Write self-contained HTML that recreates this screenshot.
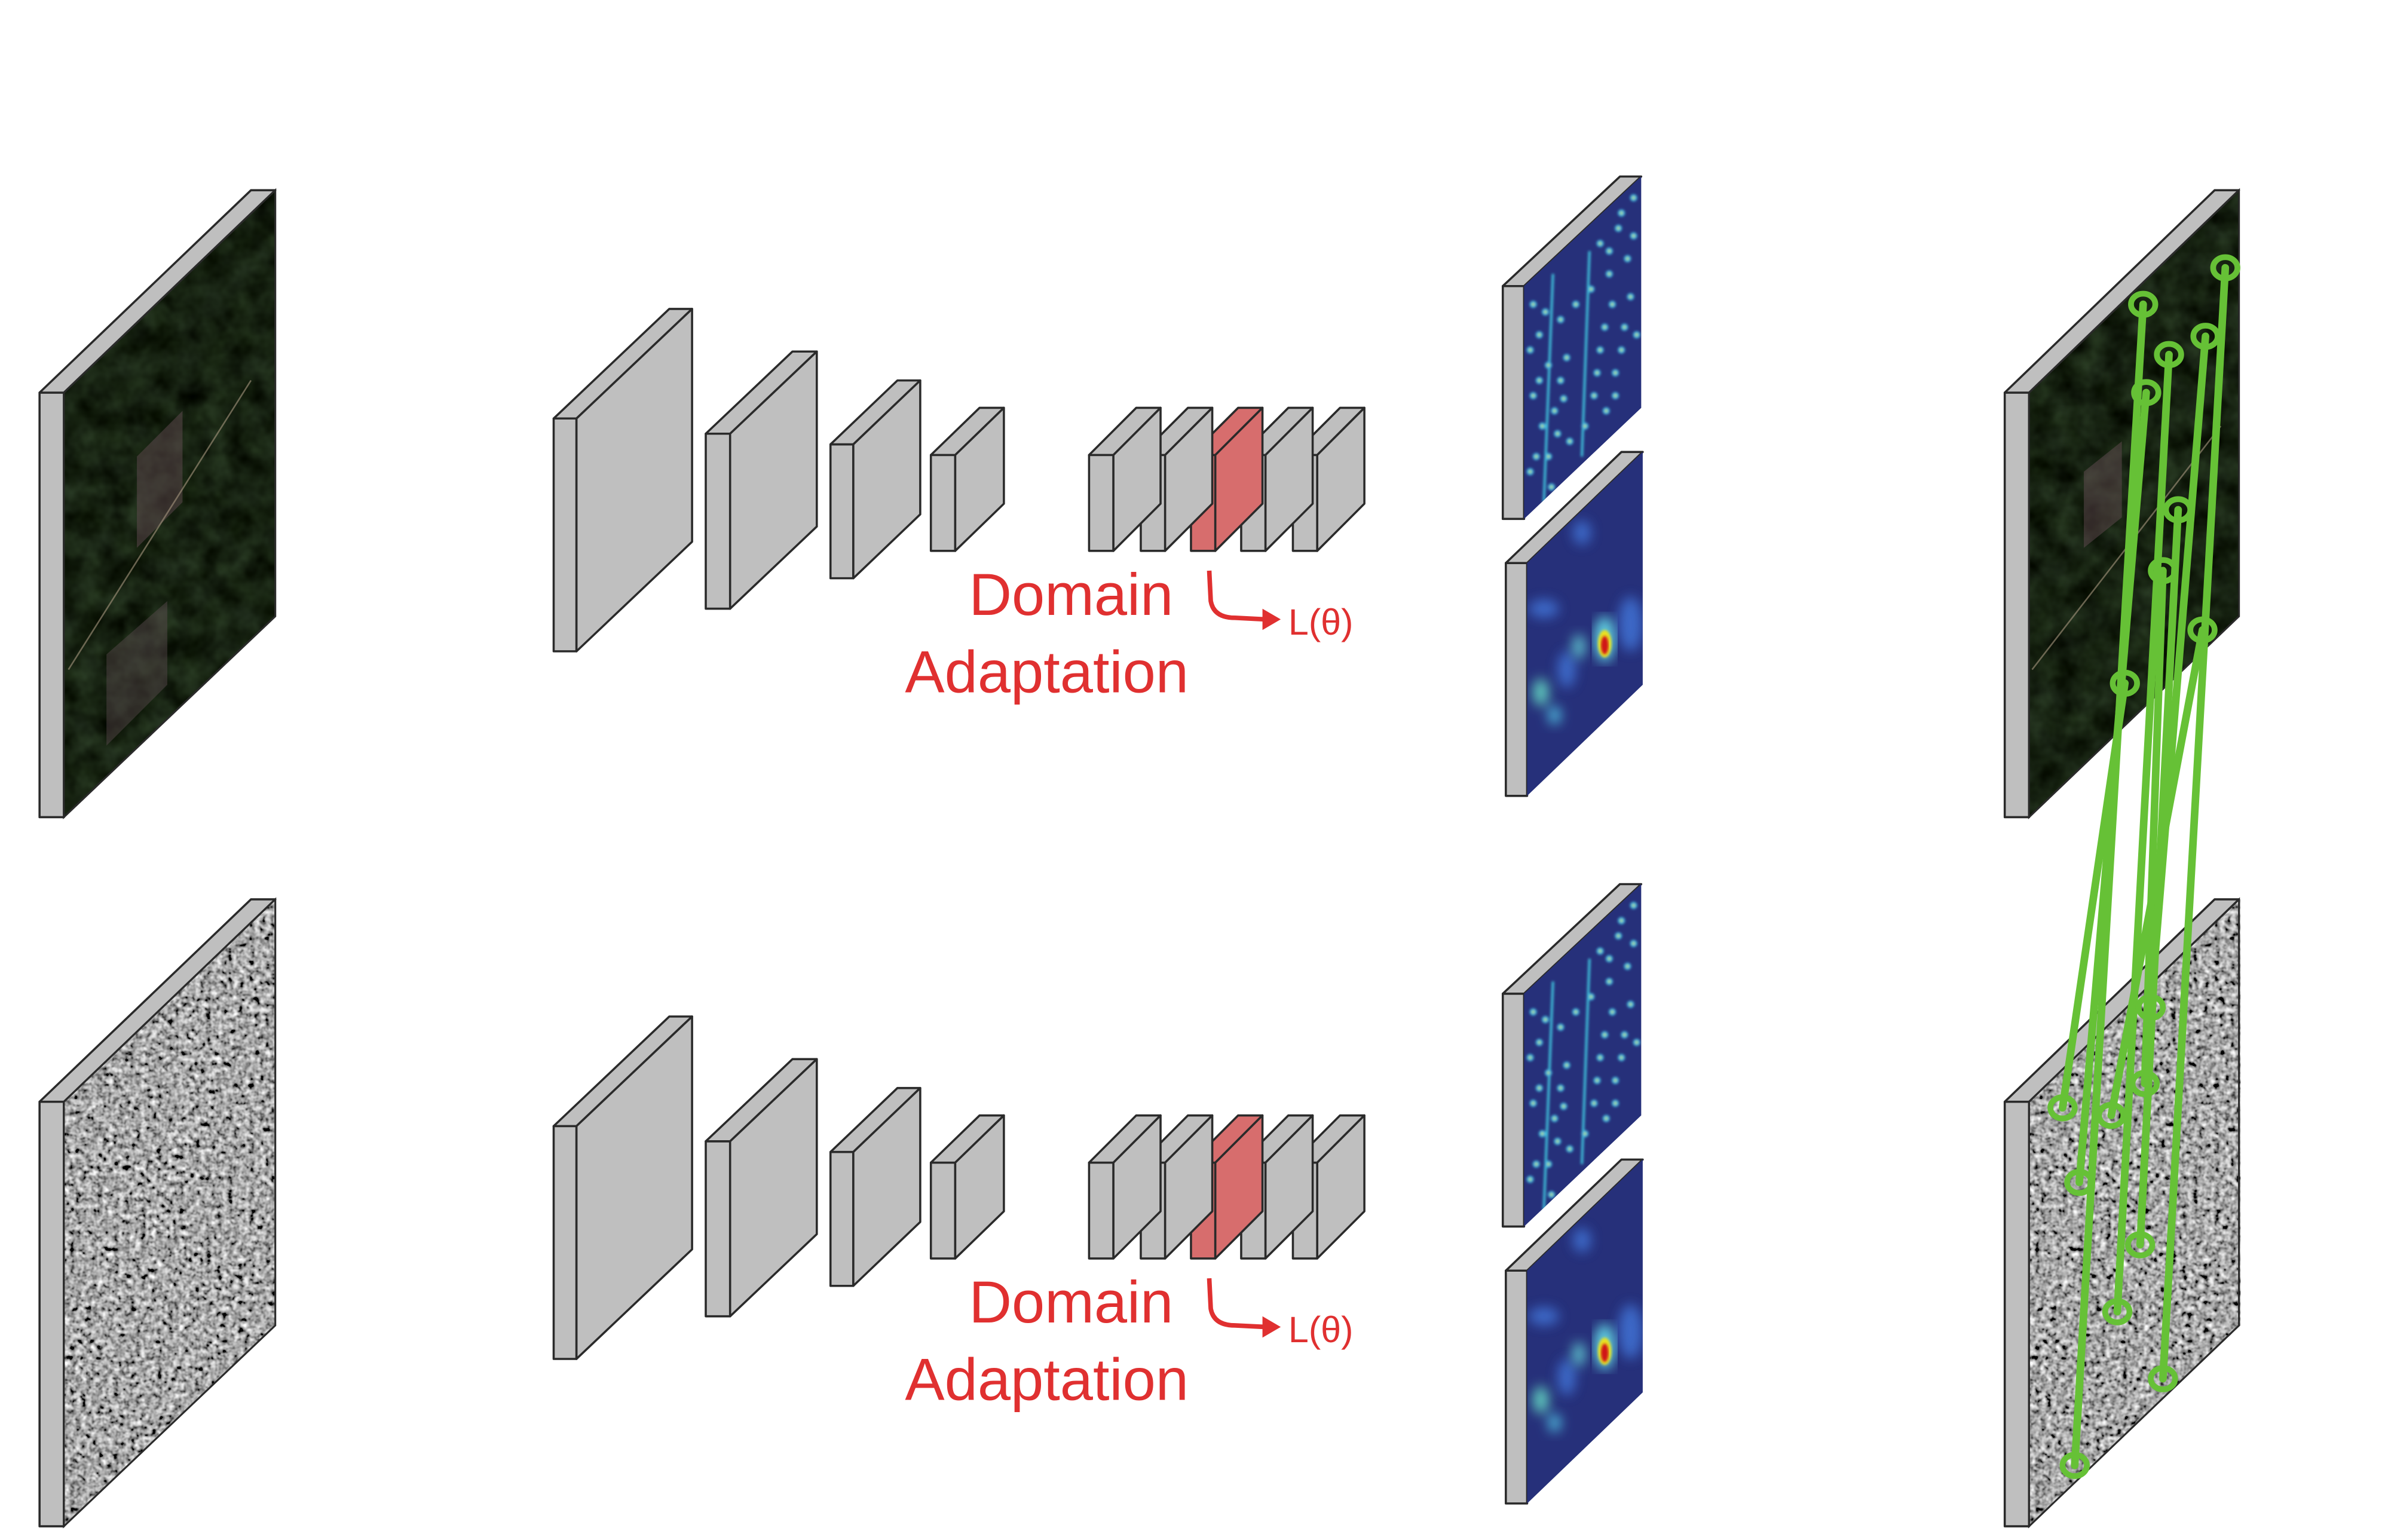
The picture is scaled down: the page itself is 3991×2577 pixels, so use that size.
<!DOCTYPE html>
<html><head><meta charset="utf-8"><style>
html,body{margin:0;padding:0;background:#fff;width:3991px;height:2577px;overflow:hidden}
svg{display:block}
.g{fill:#bfbfbf;stroke:#2a2a2a;stroke-width:1.4;stroke-linejoin:round}
.r{fill:#d76d6d;stroke:#2a2a2a;stroke-width:1.4;stroke-linejoin:round}
.t{font-family:"Liberation Sans","DejaVu Sans",sans-serif;fill:#e03030}
.gl{stroke:#66c136;stroke-width:5;fill:none;stroke-linecap:round}
.gc{stroke:#66c136;stroke-width:3.8;fill:none}
</style></head><body>
<svg width="3991" height="2577" viewBox="0 0 1568 1012" preserveAspectRatio="none" xmlns="http://www.w3.org/2000/svg">
<defs>
<filter id="sar" x="0" y="0" width="1" height="1">
<feTurbulence type="fractalNoise" baseFrequency="0.28" numOctaves="2" seed="3"/>
<feColorMatrix type="matrix" values="0.33 0.33 0.33 0 0  0.33 0.33 0.33 0 0  0.33 0.33 0.33 0 0  0 0 0 0 1"/>
<feComponentTransfer><feFuncR type="linear" slope="2.6" intercept="-0.9"/><feFuncG type="linear" slope="2.6" intercept="-0.9"/><feFuncB type="linear" slope="2.6" intercept="-0.9"/></feComponentTransfer>
</filter>
<filter id="sat" x="0" y="0" width="1" height="1" color-interpolation-filters="sRGB">
<feTurbulence type="fractalNoise" baseFrequency="0.06" numOctaves="3" seed="7"/>
<feColorMatrix type="matrix" values="0.2 0.05 0 0 -0.04  0.26 0.08 0 0 -0.04  0.2 0.03 0 0 -0.05  0 0 0 0 1"/>
</filter>
<filter id="bl"><feGaussianBlur stdDeviation="4"/></filter>
<filter id="bl2"><feGaussianBlur stdDeviation="0.8"/></filter>
<clipPath id="cL"><polygon points="42,258 181,125 181,405 42,537"/></clipPath>
<clipPath id="cR"><polygon points="1334,258 1472,125 1472,405 1334,537"/></clipPath>
<clipPath id="cH1"><polygon points="1002,188 1079,116 1079,268 1002,341"/></clipPath>
<clipPath id="cH2"><polygon points="1004,370 1080,297 1080,450 1004,523"/></clipPath>
<g id="sb">
<rect class="g" x="0" y="299" width="16" height="63"/>
<polygon class="g" points="0,299 31,268 47,268 16,299"/>
<polygon class="g" points="16,299 47,268 47,331 16,362"/>
</g>
<g id="sbr">
<rect class="r" x="0" y="299" width="16" height="63"/>
<polygon class="r" points="0,299 31,268 47,268 16,299"/>
<polygon class="r" points="16,299 47,268 47,331 16,362"/>
</g>
<g id="cnn">
<rect class="g" x="364" y="275" width="15" height="153"/>
<polygon class="g" points="364,275 440,203 455,203 379,275"/>
<polygon class="g" points="379,275 455,203 455,356 379,428"/>
<rect class="g" x="464" y="285" width="16" height="115"/>
<polygon class="g" points="464,285 521,231 537,231 480,285"/>
<polygon class="g" points="480,285 537,231 537,346 480,400"/>
<rect class="g" x="546" y="292" width="15" height="88"/>
<polygon class="g" points="546,292 590,250 605,250 561,292"/>
<polygon class="g" points="561,292 605,250 605,338 561,380"/>
<rect class="g" x="612" y="299" width="16" height="63"/>
<polygon class="g" points="612,299 644,268 660,268 628,299"/>
<polygon class="g" points="628,299 660,268 660,331 628,362"/>
<use href="#sb" x="850"/><use href="#sb" x="816"/><use href="#sbr" x="783"/><use href="#sb" x="750"/><use href="#sb" x="716"/>
<text class="t" x="637" y="404" font-size="39">Domain</text>
<text class="t" x="595" y="455" font-size="39">Adaptation</text>
<path d="M795,375 L796,395 Q798,406 812,406 L832,407" stroke="#e03030" stroke-width="3" fill="none"/>
<polygon points="830,400 842,407 830,414" fill="#e03030"/>
<text class="t" x="847" y="417" font-size="24">L(θ)</text>
</g>
<g id="dots" fill="#c8e040">
<circle cx="1008" cy="200" r="1.6"/><circle cx="1012" cy="220" r="1.6"/><circle cx="1018" cy="240" r="1.6"/><circle cx="1008" cy="260" r="1.6"/><circle cx="1014" cy="280" r="1.6"/><circle cx="1010" cy="300" r="1.6"/><circle cx="1026" cy="210" r="1.6"/><circle cx="1030" cy="235" r="1.6"/><circle cx="1028" cy="262" r="1.6"/><circle cx="1032" cy="290" r="1.6"/><circle cx="1052" cy="160" r="1.6"/><circle cx="1058" cy="180" r="1.6"/><circle cx="1064" cy="150" r="1.6"/><circle cx="1070" cy="170" r="1.6"/><circle cx="1060" cy="200" r="1.6"/><circle cx="1068" cy="215" r="1.6"/><circle cx="1052" cy="230" r="1.6"/><circle cx="1062" cy="245" r="1.6"/><circle cx="1074" cy="130" r="1.6"/><circle cx="1072" cy="195" r="1.6"/><circle cx="1048" cy="260" r="1.6"/><circle cx="1056" cy="270" r="1.6"/><circle cx="1020" cy="320" r="1.6"/><circle cx="1036" cy="200" r="1.6"/>
<circle cx="1006" cy="230" r="1.6"/><circle cx="1016" cy="205" r="1.6"/><circle cx="1022" cy="270" r="1.6"/><circle cx="1006" cy="310" r="1.6"/><circle cx="1018" cy="300" r="1.6"/><circle cx="1026" cy="250" r="1.6"/><circle cx="1046" cy="190" r="1.6"/><circle cx="1055" cy="215" r="1.6"/><circle cx="1066" cy="230" r="1.6"/><circle cx="1074" cy="155" r="1.6"/><circle cx="1076" cy="220" r="1.6"/><circle cx="1050" cy="245" r="1.6"/><circle cx="1062" cy="260" r="1.6"/><circle cx="1042" cy="280" r="1.6"/><circle cx="1012" cy="250" r="1.6"/><circle cx="1024" cy="285" r="1.6"/><circle cx="1066" cy="140" r="1.6"/><circle cx="1058" cy="165" r="1.6"/>
</g>
<g id="hm1">
<rect class="g" x="988" y="188" width="14" height="153"/>
<polygon class="g" points="988,188 1065,116 1079,116 1002,188"/>
<polygon points="1002,188 1079,116 1079,268 1002,341" fill="#26307a"/>
<g clip-path="url(#cH1)" filter="url(#bl2)">
<line x1="1021" y1="180" x2="1015" y2="330" stroke="#3fc8e0" stroke-width="1.5"/>
<line x1="1045" y1="165" x2="1040" y2="300" stroke="#3fc8e0" stroke-width="1.5"/>
<use href="#dots" stroke="#3fb8e0" stroke-width="1.5"/>
</g>
</g>
<g id="hm2">
<rect class="g" x="990" y="370" width="14" height="153"/>
<polygon class="g" points="990,370 1066,297 1080,297 1004,370"/>
<polygon points="1004,370 1080,297 1080,450 1004,523" fill="#26307a"/>
<g clip-path="url(#cH2)">
<g filter="url(#bl)" fill="#3f6fd0" opacity="0.9">
<ellipse cx="1015" cy="400" rx="10" ry="6"/><ellipse cx="1030" cy="440" rx="6" ry="12"/><ellipse cx="1072" cy="410" rx="8" ry="18"/><ellipse cx="1040" cy="350" rx="6" ry="8"/>
</g>
<g filter="url(#bl)">
<ellipse cx="1013" cy="455" rx="5" ry="9" fill="#60d0c0"/>
<ellipse cx="1038" cy="425" rx="4" ry="8" fill="#60c8d0"/>
<ellipse cx="1022" cy="470" rx="4" ry="6" fill="#50c0e0"/>
</g>
<ellipse cx="1055" cy="420" rx="7" ry="15" fill="#60d0e0" filter="url(#bl)"/>
<ellipse cx="1055" cy="423" rx="4.5" ry="9" fill="#e8e020" filter="url(#bl2)"/>
<ellipse cx="1055" cy="424" rx="2.5" ry="6" fill="#d01818" filter="url(#bl2)"/>
</g>
</g>
</defs>

<rect class="g" x="26" y="258" width="16" height="279"/>
<polygon class="g" points="26,258 165,125 181,125 42,258"/>
<polygon points="42,258 181,125 181,405 42,537" fill="#17231a"/>
<g clip-path="url(#cL)">
<rect x="42" y="125" width="139" height="412" filter="url(#sat)"/>
<polygon points="90,300 120,270 120,330 90,360" fill="#6a5058" opacity="0.45"/>
<polygon points="70,430 110,395 110,450 70,490" fill="#645058" opacity="0.4"/>
<line x1="45" y1="440" x2="165" y2="250" stroke="#a89880" stroke-width="1" opacity="0.6"/>
</g>
<polygon points="42,258 181,125 181,405 42,537" fill="none" stroke="#2a2a2a" stroke-width="1.2"/>

<rect class="g" x="26" y="724" width="16" height="279"/>
<polygon class="g" points="26,724 165,591 181,591 42,724"/>
<g transform="translate(0,466)"><g clip-path="url(#cL)"><rect x="42" y="125" width="139" height="412" filter="url(#sar)"/></g></g>
<polygon points="42,724 181,591 181,871 42,1003" fill="none" stroke="#2a2a2a" stroke-width="1.2"/>

<use href="#cnn"/>
<use href="#cnn" y="465"/>

<use href="#hm1"/><use href="#hm2"/>
<use href="#hm1" y="465"/><use href="#hm2" y="465"/>

<rect class="g" x="1318" y="258" width="16" height="279"/>
<polygon class="g" points="1318,258 1456,125 1472,125 1334,258"/>
<polygon points="1334,258 1472,125 1472,405 1334,537" fill="#17231a"/>
<g clip-path="url(#cR)">
<rect x="1334" y="125" width="138" height="412" filter="url(#sat)"/>
<polygon points="1370,310 1395,290 1395,340 1370,360" fill="#6a5058" opacity="0.45"/>
<line x1="1336" y1="440" x2="1460" y2="280" stroke="#a89880" stroke-width="1" opacity="0.6"/>
</g>
<polygon points="1334,258 1472,125 1472,405 1334,537" fill="none" stroke="#2a2a2a" stroke-width="1.2"/>

<rect class="g" x="1318" y="724" width="16" height="279"/>
<polygon class="g" points="1318,724 1456,591 1472,591 1334,724"/>
<g transform="translate(1292,466)"><g clip-path="url(#cL)"><rect x="42" y="125" width="139" height="412" filter="url(#sar)"/></g></g>
<polygon points="1334,724 1472,591 1472,871 1334,1003" fill="none" stroke="#2a2a2a" stroke-width="1.2"/>

<g class="gl">
<line x1="1409" y1="200" x2="1364" y2="963"/>
<line x1="1463" y1="176" x2="1422" y2="906"/>
<line x1="1426" y1="233" x2="1392" y2="862"/>
<line x1="1450" y1="221" x2="1414" y2="662"/>
<line x1="1411" y1="258" x2="1367" y2="777"/>
<line x1="1432" y1="335" x2="1407" y2="818"/>
<line x1="1422" y1="375" x2="1410" y2="712"/>
<line x1="1397" y1="449" x2="1356" y2="728"/>
<line x1="1448" y1="414" x2="1388" y2="733"/>
</g>
<g class="gc">
<ellipse cx="1409" cy="200" rx="8" ry="7"/><ellipse cx="1463" cy="176" rx="8" ry="7"/><ellipse cx="1426" cy="233" rx="8" ry="7"/><ellipse cx="1450" cy="221" rx="8" ry="7"/><ellipse cx="1411" cy="258" rx="8" ry="7"/><ellipse cx="1432" cy="335" rx="8" ry="7"/><ellipse cx="1422" cy="375" rx="8" ry="7"/><ellipse cx="1397" cy="449" rx="8" ry="7"/><ellipse cx="1448" cy="414" rx="8" ry="7"/>
<ellipse cx="1364" cy="963" rx="8" ry="7"/><ellipse cx="1422" cy="906" rx="8" ry="7"/><ellipse cx="1392" cy="862" rx="8" ry="7"/><ellipse cx="1414" cy="662" rx="8" ry="7"/><ellipse cx="1367" cy="777" rx="8" ry="7"/><ellipse cx="1407" cy="818" rx="8" ry="7"/><ellipse cx="1410" cy="712" rx="8" ry="7"/><ellipse cx="1356" cy="728" rx="8" ry="7"/><ellipse cx="1388" cy="733" rx="8" ry="7"/>
</g>
</svg>
</body></html>
